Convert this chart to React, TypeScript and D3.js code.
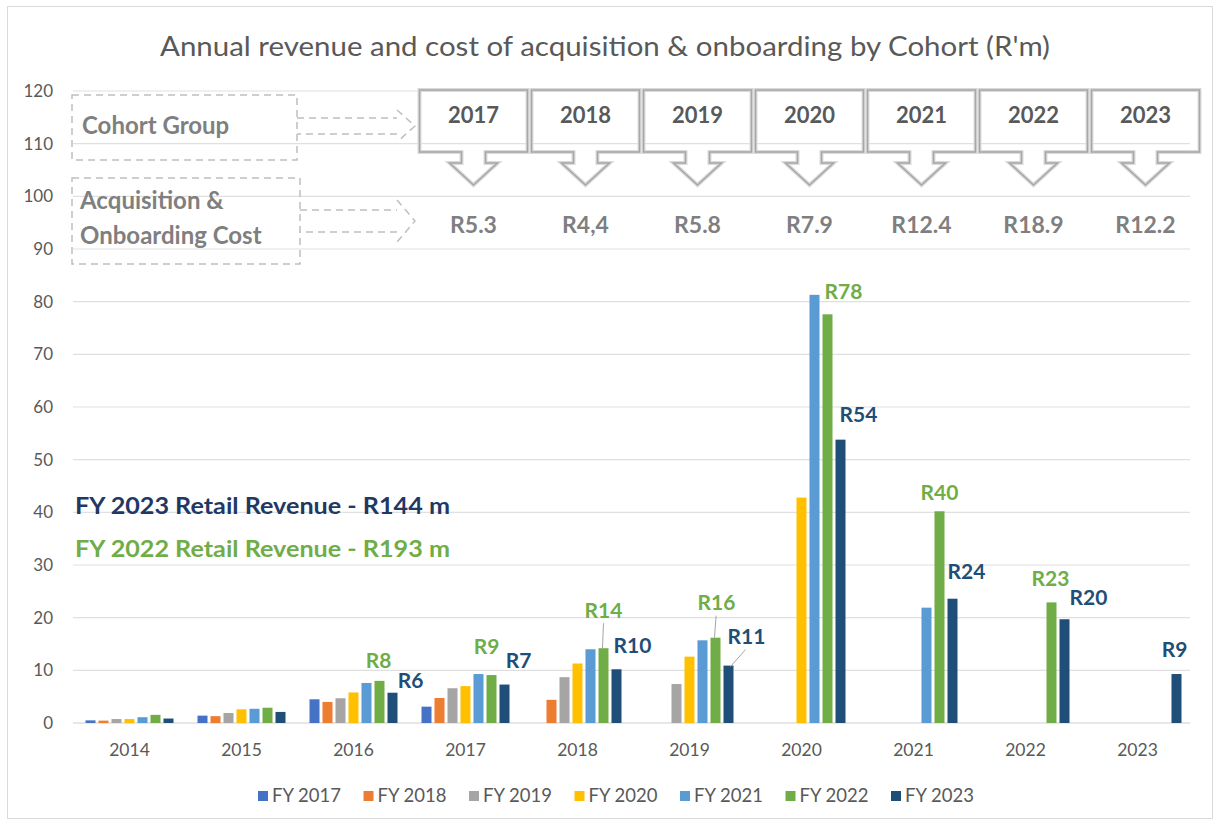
import React from 'react';
import * as d3 from 'd3';

const years = ['2014', '2015', '2016', '2017', '2018', '2019', '2020', '2021', '2022', '2023'];
const seriesNames = ['FY 2017', 'FY 2018', 'FY 2019', 'FY 2020', 'FY 2021', 'FY 2022', 'FY 2023'];
const seriesColors = ['#4472C4', '#ED7D31', '#A5A5A5', '#FFC000', '#5B9BD5', '#70AD47', '#1F4E79'];

const fy2017 = [0.5, 1.4, 4.5, 3.1, null, null, null, null, null, null];
const fy2018 = [0.45, 1.3, 4.0, 4.75, 4.4, null, null, null, null, null];
const fy2019 = [0.75, 1.9, 4.7, 6.6, 8.7, 7.4, null, null, null, null];
const fy2020 = [0.75, 2.6, 5.8, 7.0, 11.3, 12.6, 42.8, null, null, null];
const fy2021 = [1.1, 2.7, 7.6, 9.3, 14.0, 15.7, 81.3, 21.9, null, null];
const fy2022 = [1.55, 2.9, 8.0, 9.1, 14.2, 16.2, 77.6, 40.2, 22.9, null];
const fy2023 = [0.85, 2.1, 5.75, 7.3, 10.2, 10.9, 53.8, 23.6, 19.7, 9.3];
const seriesValues = [fy2017, fy2018, fy2019, fy2020, fy2021, fy2022, fy2023];

const yTicks = [0, 10, 20, 30, 40, 50, 60, 70, 80, 90, 100, 110, 120];

const cohorts = ['2017', '2018', '2019', '2020', '2021', '2022', '2023'];
const cohortCosts = ['R5.3', 'R4,4', 'R5.8', 'R7.9', 'R12.4', 'R18.9', 'R12.2'];

// which categories get data labels for FY 2022 / FY 2023
const fy22Labelled = ['2016', '2017', '2018', '2019', '2020', '2021', '2022'];
const fy23Labelled = ['2016', '2017', '2018', '2019', '2020', '2021', '2022', '2023'];

// label layout offsets (dx, dy of text centre from bar top centre)
const fy22LabelOffsets: Record<string, [number, number]> = {
  '2016': [-1, -20], '2017': [-5, -28], '2018': [0, -38], '2019': [1, -35],
  '2020': [16, -23], '2021': [0, -19], '2022': [-1, -24],
};
const fy23LabelOffsets: Record<string, [number, number]> = {
  '2016': [18, -12], '2017': [14, -24], '2018': [16, -24], '2019': [18, -29],
  '2020': [18, -25], '2021': [14, -27], '2022': [24, -22], '2023': [-2, -24],
};
const fy22Leaders = ['2018', '2019'];
const fy23Leaders = ['2019'];

const FONT = 'Lato, "Open Sans", sans-serif';
const GREEN = '#70AD47';
const NAVY = '#1F4E79';

export default function App() {
  const W = 1215, H = 824;
  const x = d3.scaleBand<string>().domain(years).range([73.5, 1193.5]).paddingInner(0).paddingOuter(0);
  const x1 = d3.scaleBand<string>().domain(seriesNames).range([-44, 44]).paddingInner(0.23);
  const y = d3.scaleLinear().domain([0, 120]).range([723, 91]);
  const cx = (yr: string) => (x(yr) as number) + x.bandwidth() / 2;
  const barCx = (yr: string, s: string) => cx(yr) + (x1(s) as number) + x1.bandwidth() / 2;

  const callW = 108, callTop = 90, callBot = 152;
  const calloutPath = (c: number) => {
    const l = c - callW / 2, r = c + callW / 2;
    return `M${l},${callTop} H${r} V${callBot} H${c + 12} V${callBot + 11} H${c + 24} L${c},${callBot + 33} L${c - 24},${callBot + 11} H${c - 12} V${callBot} H${l} Z`;
  };

  const dashedArrow = (x0: number, x1_: number, yc: number, half: number, headHalf: number) => {
    const xh = x1_ - 14;
    return `M${x0},${yc - half} H${xh - 4} M${xh - 4},${yc - headHalf} L${x1_},${yc} L${xh - 4},${yc + headHalf} M${xh - 4},${yc + half} H${x0}`;
  };

  const fy22Idx = seriesNames.indexOf('FY 2022');
  const fy23Idx = seriesNames.indexOf('FY 2023');

  return (
    <svg width={W} height={H} style={{ position: 'absolute', left: 0, top: 0, background: '#fff' }} fontFamily={FONT}>
      <rect x={7.5} y={6.5} width={1205} height={812} fill="#fff" stroke="#d9d9d9" />
      <text x={605} y={56} textAnchor="middle" fontSize={27} fill="#595959" textLength={890} lengthAdjust="spacingAndGlyphs">
        Annual revenue and cost of acquisition &amp; onboarding by Cohort (R'm)
      </text>

      {/* gridlines */}
      {yTicks.map(t => (
        <line key={'g' + t} x1={73} x2={1190} y1={y(t)} y2={y(t)} stroke={t === 0 ? '#d0d0d0' : '#e0e0e0'} strokeWidth={1.2} />
      ))}
      {yTicks.map(t => (
        <text key={'yt' + t} x={53} y={y(t)} dy="0.35em" textAnchor="end" fontSize={17} fill="#595959">{t}</text>
      ))}
      {years.map(yr => (
        <text key={'xl' + yr} x={cx(yr)} y={750} dy="0.35em" textAnchor="middle" fontSize={17.5} fill="#595959">{yr}</text>
      ))}

      {/* bars */}
      {seriesValues.map((vals, si) => (
        <g key={'s' + si} fill={seriesColors[si]}>
          {vals.map((v, i) => v == null ? null : (
            <rect key={i} x={barCx(years[i], seriesNames[si]) - x1.bandwidth() / 2} y={y(v)} width={x1.bandwidth()} height={y(0) - y(v)} />
          ))}
        </g>
      ))}

      {/* data labels */}
      {fy22Labelled.map(yr => {
        const v = seriesValues[fy22Idx][years.indexOf(yr)] as number;
        const bx = barCx(yr, 'FY 2022'), by = y(v);
        const [dx, dy] = fy22LabelOffsets[yr];
        return (
          <g key={'l22' + yr}>
            {fy22Leaders.includes(yr) && (
              <line x1={bx + dx * 0.6} y1={by + dy + 13} x2={bx - 1} y2={by} stroke="#a6a6a6" strokeWidth={1} />
            )}
            <text x={bx + dx} y={by + dy} dy="0.35em" textAnchor="middle" fontSize={21} fontWeight={700} fill={GREEN}>
              {'R' + Math.round(v)}
            </text>
          </g>
        );
      })}
      {fy23Labelled.map(yr => {
        const v = seriesValues[fy23Idx][years.indexOf(yr)] as number;
        const bx = barCx(yr, 'FY 2023'), by = y(v);
        const [dx, dy] = fy23LabelOffsets[yr];
        return (
          <g key={'l23' + yr}>
            {fy23Leaders.includes(yr) && (
              <line x1={bx + dx - 1} y1={by + dy + 13} x2={bx + 2} y2={by + 1} stroke="#a6a6a6" strokeWidth={1} />
            )}
            <text x={bx + dx} y={by + dy} dy="0.35em" textAnchor="middle" fontSize={21} fontWeight={700} fill={NAVY}>
              {'R' + Math.round(v)}
            </text>
          </g>
        );
      })}

      {/* retail revenue notes */}
      <text x={75} y={506} dy="0.35em" fontSize={22.5} fontWeight={700} fill="#1F3864" textLength={375} lengthAdjust="spacingAndGlyphs">FY 2023 Retail Revenue - R144 m</text>
      <text x={75} y={549} dy="0.35em" fontSize={22.5} fontWeight={700} fill={GREEN} textLength={375} lengthAdjust="spacingAndGlyphs">FY 2022 Retail Revenue - R193 m</text>

      {/* top annotation: dashed boxes + arrows */}
      <g fill="none" stroke="#bfbfbf" strokeWidth={1.5} strokeDasharray="7,5">
        <rect x={72} y={95} width={225} height={65} />
        <rect x={72} y={178} width={228} height={86} />
        <path d={dashedArrow(297, 415, 126, 8, 16)} />
        <path d={dashedArrow(300, 415, 221, 11, 21)} />
      </g>
      <text x={82} y={126} dy="0.35em" fontSize={24} fontWeight={700} fill="#7f7f7f">Cohort Group</text>
      <text x={80} y={201} dy="0.35em" fontSize={24} fontWeight={700} fill="#7f7f7f">Acquisition &amp;</text>
      <text x={80} y={236} dy="0.35em" fontSize={24} fontWeight={700} fill="#7f7f7f">Onboarding Cost</text>

      {cohorts.map((c, i) => {
        const c0 = cx(c) + 8;
        return (
          <g key={'co' + c}>
            <path d={calloutPath(c0)} fill="none" stroke="#dadada" strokeWidth={4} />
            <path d={calloutPath(c0)} fill="none" stroke="#a6a6a6" strokeWidth={1.5} />
            <text x={c0} y={115} dy="0.35em" textAnchor="middle" fontSize={22} fontWeight={700} fill="#595959">{c}</text>
            <text x={c0} y={225} dy="0.35em" textAnchor="middle" fontSize={23} fontWeight={700} fill="#7f7f7f">{cohortCosts[i]}</text>
          </g>
        );
      })}

      {/* legend */}
      {seriesNames.map((s, i) => {
        const lx = 258 + i * 105.5;
        return (
          <g key={'lg' + s}>
            <rect x={lx} y={791} width={10} height={10} fill={seriesColors[i]} />
            <text x={lx + 14} y={796} dy="0.35em" fontSize={18.5} fill="#595959">{s}</text>
          </g>
        );
      })}
    </svg>
  );
}
